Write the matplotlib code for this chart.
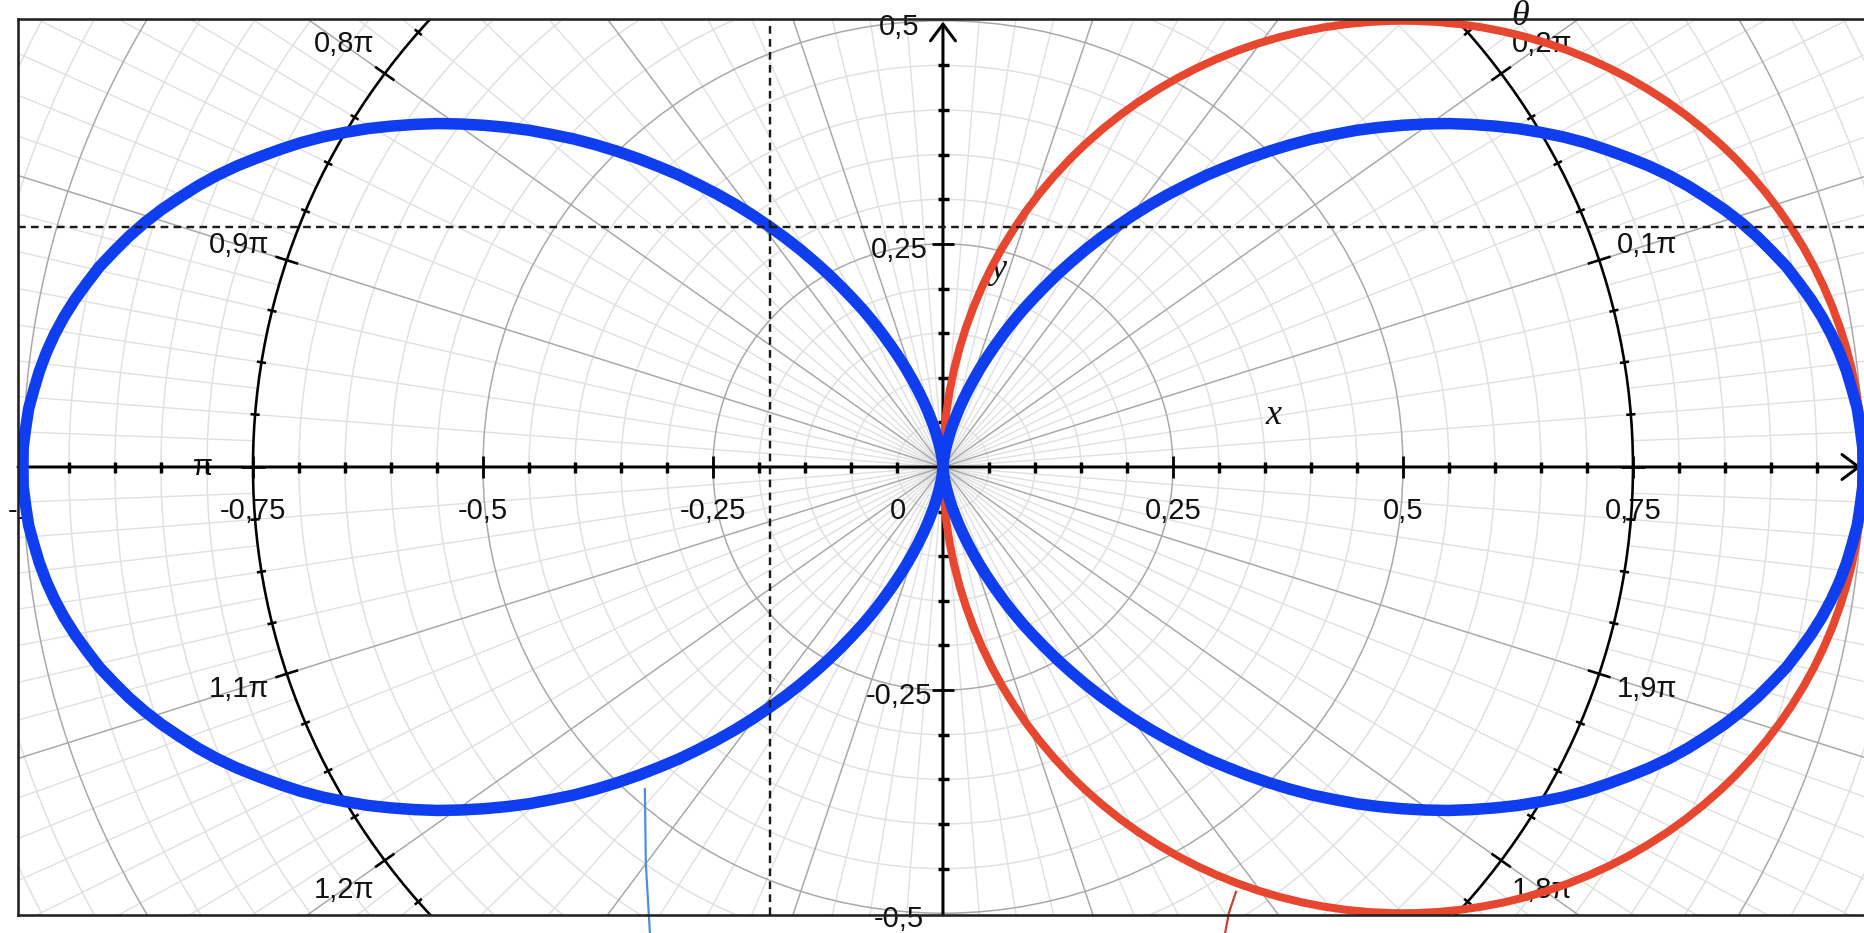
import numpy as np
import matplotlib
matplotlib.use("Agg")
import matplotlib.pyplot as plt
from matplotlib.collections import LineCollection
from matplotlib.patches import Circle

# ---------------- data ----------------
# blue curve: radius at polar angles 0..90 deg in steps of 1.25 deg (first quadrant);
# the curve is symmetric in x and y
blue_theta_deg = [1.25 * k for k in range(73)]
blue_r = [1.000, 1.000, 0.998, 0.996, 0.992, 0.988, 0.983, 0.977, 0.970, 0.962,
          0.953, 0.944, 0.933, 0.922, 0.910, 0.897, 0.883, 0.869, 0.854, 0.838,
          0.821, 0.804, 0.787, 0.769, 0.750, 0.731, 0.711, 0.691, 0.671, 0.650,
          0.629, 0.608, 0.587, 0.565, 0.544, 0.522, 0.500, 0.478, 0.456, 0.435,
          0.413, 0.392, 0.371, 0.350, 0.329, 0.309, 0.289, 0.269, 0.250, 0.231,
          0.213, 0.196, 0.179, 0.162, 0.146, 0.131, 0.117, 0.103, 0.090, 0.078,
          0.067, 0.056, 0.047, 0.038, 0.030, 0.023, 0.017, 0.012, 0.008, 0.004,
          0.002, 0.000, 0.000]

# red curve: circle
red_center = (0.5, 0.0)
red_radius = 0.5

# point marked with dashed guide lines
marked_x = -0.188
marked_y = 0.269

x_tick_values = [-1.0, -0.75, -0.5, -0.25, 0.0, 0.25, 0.5, 0.75]
x_tick_labels = ["-1", "-0,75", "-0,5", "-0,25", "0", "0,25", "0,5", "0,75"]
y_tick_values = [0.5, 0.25, -0.25, -0.5]
y_tick_labels = ["0,5", "0,25", "-0,25", "-0,5"]

theta_ring_r = 0.75
theta_label_pi = [0.1, 0.2, 0.8, 0.9, 1.0, 1.1, 1.2, 1.8, 1.9]
theta_label_text = ["0,1π", "0,2π", "0,8π", "0,9π", "π", "1,1π", "1,2π", "1,8π", "1,9π"]

# hand-drawn pen strokes in the screenshot
blue_stroke_x = [-0.324, -0.323, -0.3185]
blue_stroke_y = [-0.361, -0.444, -0.523]
red_stroke_x = [0.3185, 0.311, 0.3065]
red_stroke_y = [-0.476, -0.499, -0.523]

# ---------------- figure ----------------
DPI = 100
W, H = 1865, 933
PX = 72.0 / DPI  # points per pixel

fig = plt.figure(figsize=(W / DPI, H / DPI), dpi=DPI)
fig.patch.set_facecolor("white")
ax = fig.add_axes([18 / W, 18 / H, 1848 / W, 896 / H])
ax.set_xlim(-1.0054, 1.0033)
ax.set_ylim(-0.502, 0.502)
ax.set_xticks([])
ax.set_yticks([])
for s in ["left", "top", "bottom"]:
    ax.spines[s].set_linewidth(2.6 * PX)
    ax.spines[s].set_color("#222222")
    ax.spines[s].set_zorder(8)
ax.spines["right"].set_visible(False)

SANS = "Liberation Sans"
SERIF = "Liberation Serif"
TXT = "#111111"
FS = 21

# ---------------- polar grid ----------------
minor_col = "#e0e0e0"
major_col = "#a8a8a8"
R_OUT = 1.25

for k in range(1, 25):
    r = 0.05 * k
    if k == 15:
        continue
    major = (k % 5 == 0)
    ax.add_patch(Circle((0, 0), r, fill=False,
                        ec=major_col if major else minor_col,
                        lw=1.5 * PX, zorder=1.5 if major else 1))

seg_major, seg_minor = [], []
for k in range(80):
    a = np.deg2rad(4.5 * k)
    c, s = np.cos(a), np.sin(a)
    if k % 4 == 0:
        seg_major.append([(0, 0), (R_OUT * c, R_OUT * s)])
    else:
        seg_minor.append([(0.0, 0.0), (R_OUT * c, R_OUT * s)])
for k in range(80):
    a = np.deg2rad(2.25 + 4.5 * k)
    c, s = np.cos(a), np.sin(a)
    seg_minor.append([(0.75 * c, 0.75 * s), (R_OUT * c, R_OUT * s)])
ax.add_collection(LineCollection(seg_minor, colors=minor_col, linewidths=1.4 * PX, zorder=1))
ax.add_collection(LineCollection(seg_major, colors=major_col, linewidths=1.5 * PX, zorder=1.5))

# ---------------- theta ring ----------------
ax.add_patch(Circle((0, 0), theta_ring_r, fill=False, ec="black", lw=2.6 * PX, zorder=3))
ring_ticks = []
for k in range(80):
    a = np.deg2rad(4.5 * k)
    c, s = np.cos(a), np.sin(a)
    d = 0.013 if k % 4 == 0 else 0.005
    ring_ticks.append([((theta_ring_r - d) * c, (theta_ring_r - d) * s),
                       ((theta_ring_r + d) * c, (theta_ring_r + d) * s)])
ax.add_collection(LineCollection(ring_ticks, colors="black", linewidths=2.6 * PX, zorder=3))

for v, t in zip(theta_label_pi, theta_label_text):
    a = v * np.pi
    ax.annotate(t, xy=(theta_ring_r * np.cos(a), theta_ring_r * np.sin(a)),
                xytext=(50 * PX * np.cos(a), 50 * PX * np.sin(a)),
                textcoords="offset points", ha="center", va="center",
                fontsize=FS, family=SANS, color=TXT, zorder=2.5,
                annotation_clip=False)

# ---------------- cartesian axes ----------------
ax.annotate("", xy=(0.998, 0), xytext=(-1.0054, 0),
            arrowprops=dict(arrowstyle="->,head_length=1.2,head_width=0.9",
                            lw=3 * PX, color="black", shrinkA=0, shrinkB=0),
            zorder=3, annotation_clip=False)
ax.annotate("", xy=(0, 0.499), xytext=(0, -0.502),
            arrowprops=dict(arrowstyle="->,head_length=1.2,head_width=0.9",
                            lw=3 * PX, color="black", shrinkA=0, shrinkB=0),
            zorder=3, annotation_clip=False)

xt_minor = [round(0.05 * k, 2) for k in range(-19, 20) if k % 5 != 0]
xt_major = [-0.75, -0.5, -0.25, 0.25, 0.5, 0.75]
yt_minor = [round(0.05 * k, 2) for k in range(-9, 10) if k % 5 != 0]
yt_major = [-0.25, 0.25]
ax.plot(xt_minor, [0] * len(xt_minor), ls="none", marker="|", ms=11 * PX,
        mew=3.4 * PX, color="black", zorder=3)
ax.plot(xt_major, [0] * len(xt_major), ls="none", marker="|", ms=22 * PX,
        mew=2.8 * PX, color="black", zorder=3)
ax.plot([0] * len(yt_minor), yt_minor, ls="none", marker="_", ms=11 * PX,
        mew=3.4 * PX, color="black", zorder=3)
ax.plot([0] * len(yt_major), yt_major, ls="none", marker="_", ms=22 * PX,
        mew=2.8 * PX, color="black", zorder=3)

for v, t in zip(x_tick_values, x_tick_labels):
    dx = -45 if v == 0 else (-2 if v == -1.0 else 0)
    ax.annotate(t, xy=(v, 0), xytext=(dx * PX, -44 * PX), textcoords="offset points",
                ha="center", va="center", fontsize=FS, family=SANS, color=TXT,
                zorder=2.5, annotation_clip=False)
for v, t in zip(y_tick_values, y_tick_labels):
    ax.annotate(t, xy=(0, v), xytext=(-44 * PX, -6 * PX), textcoords="offset points",
                ha="center", va="center", fontsize=FS, family=SANS, color=TXT,
                zorder=2.5, annotation_clip=False)

ax.text(0.359, 0.058, "x", fontsize=26, family=SERIF, style="italic",
        ha="center", va="center", color=TXT, zorder=2.5)
ax.text(0.060, 0.221, "y", fontsize=26, family=SERIF, style="italic",
        ha="center", va="center", color=TXT, zorder=2.5)
ax.text(0.627, 0.505, "θ", fontsize=26, family=SERIF, style="italic",
        ha="center", va="center", color=TXT, zorder=2.5, clip_on=False)

# ---------------- curves ----------------
th = np.deg2rad(np.array(blue_theta_deg))
r = np.array(blue_r)
th_full = np.concatenate([th, np.pi - th[::-1], np.pi + th, 2 * np.pi - th[::-1]])
r_full = np.concatenate([r, r[::-1], r, r[::-1]])
ax.add_patch(Circle(red_center, red_radius, fill=False, ec="#e6472e",
                    lw=8 * PX, zorder=4))
ax.plot(r_full * np.cos(th_full), r_full * np.sin(th_full), color="#0f3ef0",
        lw=11.5 * PX, solid_joinstyle="round", solid_capstyle="round", zorder=5)

# dashed guide lines through the marked point
ax.axvline(marked_x, color="#1a1a1a", lw=2.4 * PX, ls=(0, (3.2, 2.2)), zorder=6)
ax.axhline(marked_y, color="#1a1a1a", lw=2.4 * PX, ls=(0, (3.2, 2.2)), zorder=6)

# pen strokes
ax.plot(blue_stroke_x, blue_stroke_y, color="#4d8fdb", lw=2.2 * PX, zorder=7, clip_on=False)
ax.plot(red_stroke_x, red_stroke_y, color="#c8402c", lw=2.2 * PX, zorder=7, clip_on=False)

fig.savefig("out.png", dpi=DPI, facecolor="white")
